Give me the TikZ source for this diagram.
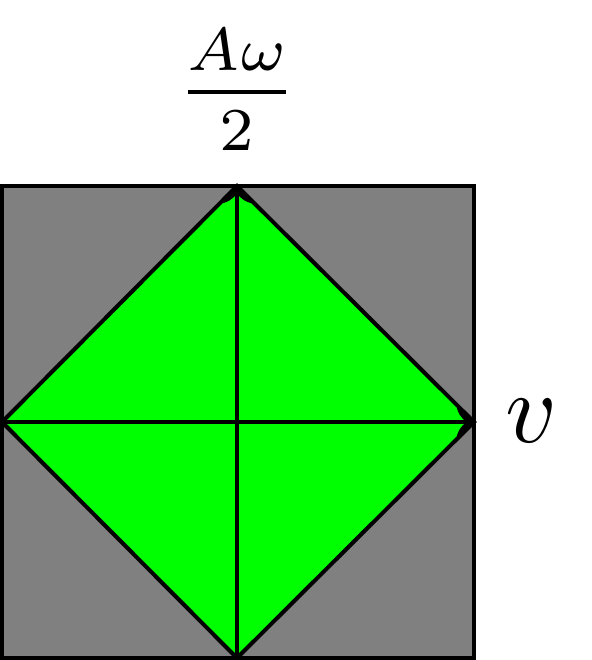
\documentclass[tikz,border=0pt]{standalone}
\usetikzlibrary{arrows.meta}
\begin{document}
\begin{tikzpicture}[x=0.1pt,y=-0.1pt,line width=0.4pt,
  axis/.style={draw=black,-{To[length=1.7pt,width=3.2pt]}},
  edge/.style={draw=black,line join=miter}]
\useasboundingbox (0,0) rectangle (592,660);
\coordinate (T) at (237,186);
\coordinate (R) at (474,422);
\coordinate (B) at (237,658);
\coordinate (L) at (2,422);
\coordinate (TL) at (2,186);
\coordinate (BR) at (474,658);
\fill[gray] (TL) rectangle (BR);
\fill[green] (T) -- (R) -- (B) -- (L) -- cycle;
\draw[edge] (T) -- (R) -- (B) -- (L) -- cycle;
\draw[edge] (TL) rectangle (BR);
\draw[axis] (B) -- (T);
\draw[axis] (L) -- (R);
\node[anchor=base,inner sep=0pt,scale=0.87] (lab) at (237,113.75)
  {$\frac{\raisebox{0.98pt}{$\scriptstyle A\omega$}}{\raisebox{-0.72pt}{$\scriptstyle 2$}}$};
\node[anchor=base,inner sep=0pt] (v) at (532,442) {$v$};
\end{tikzpicture}
\end{document}
